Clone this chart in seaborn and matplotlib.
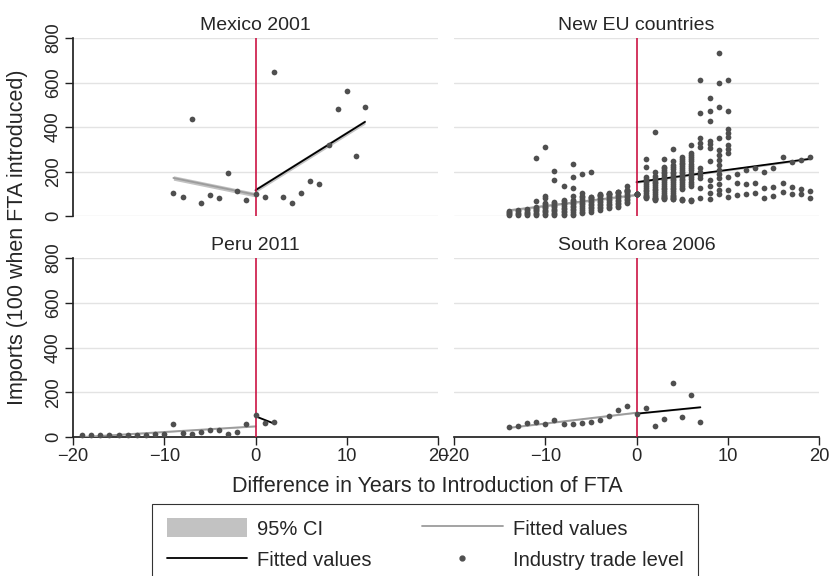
import numpy as np
import pandas as pd
import seaborn as sns
import matplotlib
matplotlib.use("Agg")
from matplotlib import pyplot as plt
from matplotlib.lines import Line2D
from matplotlib.patches import Patch

# values (imports, 100 = year FTA introduced)
panel_titles = ["Mexico 2001", "New EU countries", "Peru 2011", "South Korea 2006"]

mexico_years = list(range(-9, 13))
mexico_levels = [105, 87, 435, 58, 93, 80, 192, 111, 72, 100, 87,
                 645, 86, 60, 105, 156, 146, 317, 480, 560, 270, 491]

peru_years = list(range(-19, 3))
peru_levels = [11, 11, 11, 11, 9, 11, 9, 9, 12, 12, 56,
               18, 15, 24, 33, 30, 15, 21, 60, 100, 62, 68]

korea_years = list(range(-14, 8))
korea_levels = [45, 50, 63, 65, 60, 74, 56, 57, 62, 65, 78,
                92, 119, 137, 102, 129, 51, 80, 240, 89, 189, 69]

# new EU members: many industries per year
eu_levels = {
    -14: [4, 9, 14, 19, 24],
    -13: [5, 10, 15, 21, 27],
    -12: [4, 9, 14, 20, 26, 31],
    -11: [3, 9, 15, 21, 27, 33, 38, 42, 69, 260],
    -10: [4, 10, 16, 22, 28, 34, 40, 46, 52, 57, 80, 92, 311],
    -9: [3, 9, 15, 21, 27, 33, 39, 45, 51, 58, 65, 162, 203],
    -8: [4, 10, 17, 24, 31, 38, 45, 52, 59, 66, 72, 137],
    -7: [4, 11, 18, 25, 32, 39, 46, 53, 60, 66, 72, 92, 124, 177, 234],
    -6: [12, 20, 28, 36, 44, 52, 60, 68, 76, 84, 92, 102, 188],
    -5: [20, 27, 34, 41, 48, 55, 62, 69, 76, 83, 85, 87, 197],
    -4: [27, 34, 41, 48, 55, 62, 69, 76, 83, 90, 93, 95, 97],
    -3: [35, 42, 49, 56, 63, 70, 77, 84, 91, 97, 99, 101, 102],
    -2: [39, 46, 53, 60, 67, 74, 81, 88, 95, 102, 106, 108, 110],
    -1: [57, 64, 71, 78, 85, 92, 99, 106, 112, 114, 116, 117, 135],
    0: [100, 100, 100, 100, 100, 100, 100, 100],
    1: [80, 84, 87, 90, 95, 103, 111, 119, 127, 135, 143, 151, 159, 167, 177, 222, 256],
    2: [72, 75, 78, 81, 83, 91, 99, 107, 115, 123, 131, 139, 147, 155, 163, 172,
        181, 200, 377],
    3: [78, 80, 83, 86, 88, 96, 104, 112, 120, 128, 136, 144, 152, 160, 168, 176,
        184, 192, 200, 208, 216, 222, 256],
    4: [75, 78, 80, 84, 88, 96, 104, 112, 120, 128, 136, 144, 152, 160, 168, 176,
        184, 192, 200, 210, 220, 230, 249, 301],
    5: [70, 72, 75, 120, 128, 136, 144, 152, 160, 168, 176, 184, 192, 200, 208,
        216, 224, 232, 240, 248, 256, 263],
    6: [68, 70, 74, 135, 145, 155, 165, 175, 185, 195, 205, 215, 225, 235, 245,
        255, 265, 275, 285, 320],
    7: [80, 125, 170, 185, 200, 215, 312, 330, 350, 465, 609],
    8: [75, 104, 135, 162, 249, 307, 322, 337, 429, 470, 530],
    9: [98, 117, 143, 170, 188, 207, 230, 252, 274, 297, 350, 492, 597, 732],
    10: [87, 117, 177, 282, 300, 320, 357, 373, 390, 472, 612],
    11: [95, 150, 188],
    12: [99, 144, 207],
    13: [105, 150, 215],
    14: [81, 125, 197],
    15: [92, 132, 217],
    16: [110, 150, 264],
    17: [99, 129, 242],
    18: [98, 120, 252],
    19: [82, 114, 267],
}

# half width of the grey confidence band around each fit
ci_halfwidth = [10, 5, 3, 3]

eu_years = [yr for yr, vals in eu_levels.items() for _ in vals]
eu_values = [v for vals in eu_levels.values() for v in vals]

panels = [
    pd.DataFrame({"year": mexico_years, "level": mexico_levels}),
    pd.DataFrame({"year": eu_years, "level": eu_values}),
    pd.DataFrame({"year": peru_years, "level": peru_levels}),
    pd.DataFrame({"year": korea_years, "level": korea_levels}),
]

sns.set_theme(style="white")
plt.rcParams["font.family"] = ["Liberation Sans", "DejaVu Sans"]

dot_color = "#4f4f4f"
red = "#cc1444"
band_color = "#c2c2c2"
pre_color = "#9c9c9c"

fig = plt.figure(figsize=(8.3, 5.76), dpi=100)
W, H = 830, 576
boxes = [(73, 38, 365, 178), (454, 38, 365, 178),
         (73, 258, 365, 179), (454, 258, 365, 179)]
axes = [fig.add_axes([x / W, 1 - (y + h) / H, w / W, h / H]) for x, y, w, h in boxes]

for i, (ax, df) in enumerate(zip(axes, panels)):
    ax.set_xlim(-20, 20)
    ax.set_ylim(0, 800)
    ax.set_yticks([0, 200, 400, 600, 800])
    ax.set_xticks([-20, -10, 0, 10, 20])
    ax.grid(axis="y", color="#e3e3e3", linewidth=1.0)
    ax.set_axisbelow(True)

    for side, color in [("pre", pre_color), ("post", "black")]:
        part = df[df["year"] <= 0] if side == "pre" else df[df["year"] >= 0]
        coef = np.polyfit(part["year"], part["level"], 1)
        xs = np.linspace(part["year"].min(), part["year"].max(), 50)
        ys = np.polyval(coef, xs)
        ax.fill_between(xs, ys - ci_halfwidth[i], ys + ci_halfwidth[i],
                        color=band_color, linewidth=0, zorder=2)
        ax.plot(xs, ys, color=color, linewidth=1.3, zorder=3)

    ax.axvline(0, color=red, linewidth=1.2, zorder=4)
    sns.scatterplot(data=df, x="year", y="level", ax=ax, color=dot_color,
                    s=17, linewidth=0, zorder=5, clip_on=False)
    ax.set_xlabel("")
    ax.set_ylabel("")
    ax.set_title(panel_titles[i], fontsize=14, pad=6)

    for s in ax.spines.values():
        s.set_visible(False)
    if i in (0, 2):
        ax.spines["left"].set_visible(True)
        ax.spines["left"].set_color("#222222")
        ax.tick_params(axis="y", length=6, width=1, color="#222222",
                       labelsize=13.2, pad=2, left=True)
        plt.setp(ax.get_yticklabels(), rotation=90, va="center")
    else:
        ax.tick_params(axis="y", left=False, labelleft=False)
    if i in (2, 3):
        ax.spines["bottom"].set_visible(True)
        ax.spines["bottom"].set_color("#222222")
        ax.tick_params(axis="x", length=6, width=1, color="#222222",
                       labelsize=13.2, pad=2, bottom=True)
    else:
        ax.tick_params(axis="x", bottom=False, labelbottom=False)

fig.text(18 / W, 1 - 237 / H, "Imports (100 when FTA introduced)",
         rotation=90, ha="center", va="center", fontsize=15.5)
fig.text(427 / W, 1 - 487 / H, "Difference in Years to Introduction of FTA",
         ha="center", va="center", fontsize=15.5)

handles = [
    Patch(facecolor=band_color, edgecolor="none"),
    Line2D([], [], color="black", linewidth=1.3),
    Line2D([], [], color=pre_color, linewidth=1.3),
    Line2D([], [], color=dot_color, marker="o", markersize=3.5, linestyle="none"),
]
labels = ["95% CI", "Fitted values", "Fitted values", "Industry trade level"]
leg = fig.legend(handles, labels, ncol=2, loc="upper center",
                 bbox_to_anchor=(425 / W, 1 - 504 / H), fontsize=14.5,
                 frameon=True, fancybox=False, edgecolor="black",
                 handlelength=4.0, handleheight=1.1, handletextpad=0.5,
                 columnspacing=2.5, labelspacing=0.55, borderpad=0.7,
                 borderaxespad=0)
leg.get_frame().set_linewidth(0.8)

fig.savefig("out.png", dpi=100)
